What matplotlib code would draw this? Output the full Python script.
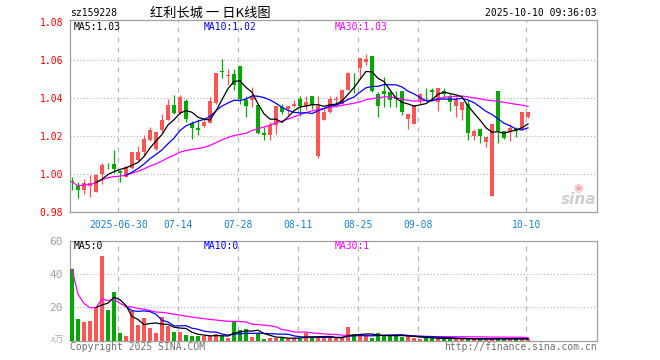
import matplotlib
matplotlib.use('Agg')
import matplotlib.pyplot as plt
import numpy as np
import pandas as pd

# daily K-line data, index 0 = first trading day
opens = [0.9960, 0.9932, 0.9914, 0.9932, 0.9905, 1.0000, 1.0041, 1.0049, 1.0014, 0.9984,
         1.0028, 1.0072, 1.0116, 1.0175, 1.0128, 1.0231, 1.0284, 1.0363, 1.0321, 1.0384,
         1.0268, 1.0240, 1.0249, 1.0268, 1.0370, 1.0540, 1.0512, 1.0526, 1.0565, 1.0386,
         1.0386, 1.0360, 1.0214, 1.0202, 1.0254, 1.0351, 1.0342, 1.0354, 1.0395, 1.0354,
         1.0407, 1.0091, 1.0284, 1.0325, 1.0386, 1.0368, 1.0442, 1.0506, 1.0556, 1.0588,
         1.0618, 1.0418, 1.0435, 1.0430, 1.0396, 1.0435, 1.0286, 1.0263, 1.0386, 1.0431,
         1.0442, 1.0377, 1.0433, 1.0404, 1.0354, 1.0333, 1.0368, 1.0196, 1.0233, 1.0168,
         0.9884, 1.0433, 1.0224, 1.0219, 1.0233, 1.0233, 1.0300]
closes = [0.9956, 0.9914, 0.9949, 0.9949, 0.9993, 1.0046, 1.0039, 1.0025, 1.0005, 1.0037,
          1.0112, 1.0112, 1.0182, 1.0231, 1.0219, 1.0284, 1.0363, 1.0321, 1.0404, 1.0286,
          1.0240, 1.0231, 1.0272, 1.0381, 1.0528, 1.0533, 1.0521, 1.0465, 1.0395, 1.0356,
          1.0407, 1.0214, 1.0202, 1.0254, 1.0354, 1.0325, 1.0354, 1.0368, 1.0354, 1.0377,
          1.0360, 1.0354, 1.0325, 1.0395, 1.0395, 1.0442, 1.0530, 1.0502, 1.0609, 1.0605,
          1.0435, 1.0356, 1.0418, 1.0386, 1.0393, 1.0325, 1.0312, 1.0360, 1.0418, 1.0428,
          1.0430, 1.0453, 1.0418, 1.0377, 1.0395, 1.0377, 1.0216, 1.0225, 1.0196, 1.0191,
          1.0263, 1.0226, 1.0186, 1.0242, 1.0226, 1.0326, 1.0326]
highs = [0.9984, 0.9958, 0.9970, 0.9993, 0.9996, 1.0054, 1.0058, 1.0125, 1.0020, 1.0042,
         1.0112, 1.0146, 1.0203, 1.0245, 1.0223, 1.0316, 1.0395, 1.0416, 1.0412, 1.0395,
         1.0275, 1.0286, 1.0286, 1.0404, 1.0528, 1.0605, 1.0553, 1.0553, 1.0565, 1.0407,
         1.0456, 1.0360, 1.0246, 1.0272, 1.0354, 1.0368, 1.0358, 1.0386, 1.0407, 1.0407,
         1.0407, 1.0407, 1.0351, 1.0407, 1.0407, 1.0447, 1.0535, 1.0530, 1.0609, 1.0628,
         1.0618, 1.0430, 1.0509, 1.0430, 1.0435, 1.0435, 1.0312, 1.0360, 1.0425, 1.0453,
         1.0453, 1.0453, 1.0453, 1.0418, 1.0407, 1.0377, 1.0386, 1.0233, 1.0233, 1.0191,
         1.0263, 1.0433, 1.0224, 1.0263, 1.0244, 1.0326, 1.0326]
lows = [0.9914, 0.9870, 0.9893, 0.9879, 0.9902, 0.9946, 1.0023, 1.0002, 0.9958, 0.9980,
        1.0025, 1.0068, 1.0098, 1.0170, 1.0125, 1.0219, 1.0280, 1.0316, 1.0316, 1.0272,
        1.0182, 1.0201, 1.0245, 1.0265, 1.0365, 1.0505, 1.0465, 1.0442, 1.0368, 1.0298,
        1.0351, 1.0207, 1.0175, 1.0175, 1.0207, 1.0312, 1.0307, 1.0351, 1.0302, 1.0333,
        1.0342, 1.0080, 1.0280, 1.0320, 1.0351, 1.0365, 1.0439, 1.0425, 1.0505, 1.0570,
        1.0430, 1.0298, 1.0351, 1.0351, 1.0351, 1.0307, 1.0235, 1.0260, 1.0368, 1.0390,
        1.0390, 1.0330, 1.0404, 1.0330, 1.0298, 1.0284, 1.0177, 1.0177, 1.0161, 1.0140,
        0.9880, 1.0163, 1.0181, 1.0174, 1.0191, 1.0230, 1.0291]
# volume in 万
volumes = [43.0, 13.0, 11.4, 12.0, 20.4, 50.8, 18.4, 29.2, 4.6, 2.8,
           17.8, 9.4, 13.8, 7.8, 4.6, 14.2, 8.8, 5.2, 5.2, 3.4,
           2.8, 2.8, 2.8, 2.8, 4.0, 2.6, 1.8, 11.6, 6.4, 7.0,
           2.2, 4.4, 1.2, 1.4, 1.6, 1.6, 1.6, 1.6, 1.2, 4.8,
           2.2, 2.2, 2.0, 1.6, 1.4, 1.8, 8.2, 3.8, 3.4, 3.0,
           1.8, 4.4, 3.0, 3.0, 3.0, 2.2, 3.0, 1.8, 1.0, 1.8,
           1.4, 1.4, 1.4, 1.2, 1.0, 1.0, 1.2, 1.0, 1.0, 1.0,
           1.0, 1.8, 1.0, 1.0, 1.0, 1.2, 1.0]

date_labels = ['2025-06-30', '07-14', '07-28', '08-11', '08-25', '09-08', '10-10']
date_idx = [8, 18, 28, 38, 48, 58, 76]
price_ticks = [1.08, 1.06, 1.04, 1.02, 1.00, 0.98]
vol_ticks = [60, 40, 20]

RED = '#ff5555'
GREEN = '#00a800'
MONO = 'DejaVu Sans Mono'

df = pd.DataFrame({'o': opens, 'c': closes, 'h': highs, 'l': lows, 'v': volumes})
x = np.arange(len(df))
up = df['c'] >= df['o']
cols = [RED if u else GREEN for u in up]

W, H = 660, 360
fig = plt.figure(figsize=(6.6, 3.6), dpi=100)

def fx(px):
    return px / W

def fy(py):
    return 1 - py / H

ax = fig.add_axes([fx(70), fy(211.5), fx(527), (211.5 - 20) / H])
axv = fig.add_axes([fx(70), fy(340.7), fx(527), (340.7 - 241) / H])

xl = (-1 / 3, 87.5)
grid_x = [i - 0.3 for i in date_idx]

# candles
body = (df['c'] - df['o']).abs().clip(lower=0.00025)
bot = df[['o', 'c']].min(axis=1)
ax.vlines(x, df['l'], df['h'], colors=cols, linewidth=0.9, zorder=3)
ax.bar(x, body, bottom=bot, width=0.78, color=cols, linewidth=0, zorder=3)

ma5 = df['c'].rolling(5).mean()
ma10 = df['c'].rolling(10).mean()
ma30 = df['c'].rolling(30, min_periods=1).mean()
ax.plot(x, ma30, color='#ff00ff', lw=0.9, zorder=4)
ax.plot(x, ma10, color='#0000ff', lw=0.9, zorder=4)
ax.plot(x, ma5, color='black', lw=0.9, zorder=4)

ax.set_xlim(*xl)
ax.set_ylim(0.9804, 1.0809)
ax.set_yticks(price_ticks)
ax.set_yticklabels(['%.2f' % t for t in price_ticks], color='red', fontsize=7, family=MONO)
ax.set_xticks(grid_x)
ax.set_xticklabels(date_labels, color='#1a80cc', fontsize=7, family=MONO)
ax.tick_params(length=0, pad=5)
ax.tick_params(axis='x', pad=6)
for v in [1.06, 1.04, 1.02, 1.00]:
    ax.axhline(v, color='#b0b0b0', lw=0.8, ls=(0, (1, 2)), zorder=1)
for g in grid_x:
    ax.axvline(g, color='#b4b4b4', lw=0.9, ls=(0, (4, 4)), zorder=1)

# volume
axv.bar(x, df['v'], width=0.78, color=cols, linewidth=0, zorder=3)
axv.plot(x, df['v'].rolling(30, min_periods=1).mean(), color='#ff00ff', lw=0.9, zorder=4)
axv.plot(x, df['v'].rolling(10).mean(), color='#0000ff', lw=0.9, zorder=4)
axv.plot(x, df['v'].rolling(5).mean(), color='black', lw=0.9, zorder=4)
axv.set_xlim(*xl)
axv.set_ylim(0, 60)
axv.set_yticks(vol_ticks)
axv.set_yticklabels([str(t) for t in vol_ticks], color='#a0a0a0', fontsize=8, family=MONO)
axv.set_xticks([])
axv.tick_params(length=0, pad=5)
for v in [40, 20]:
    axv.axhline(v, color='#b0b0b0', lw=0.8, ls=(0, (1, 2)), zorder=1)
for g in grid_x:
    axv.axvline(g, color='#b4b4b4', lw=0.9, ls=(0, (4, 4)), zorder=1)

for a in (ax, axv):
    for s in a.spines.values():
        s.set_color('#a0a0a0')
        s.set_linewidth(0.9)

# header texts
fig.text(fx(70), fy(13), 'sz159228', fontsize=7, family=MONO, va='center')
fig.text(fx(150), fy(13), '红利长城 一 日K线图', fontsize=9.5,
         family=['Noto Sans CJK SC', 'DejaVu Sans'], va='center')
fig.text(fx(597), fy(13), '2025-10-10 09:36:03', fontsize=7, family=MONO,
         va='center', ha='right')

fig.text(fx(74), fy(27), 'MA5:1.03', fontsize=7, family=MONO, va='center', color='black')
fig.text(fx(204), fy(27), 'MA10:1.02', fontsize=7, family=MONO, va='center', color='#0000ff')
fig.text(fx(335), fy(27), 'MA30:1.03', fontsize=7, family=MONO, va='center', color='#ff00ff')

fig.text(fx(74), fy(246), 'MA5:0', fontsize=7, family=MONO, va='center', color='black')
fig.text(fx(204), fy(246), 'MA10:0', fontsize=7, family=MONO, va='center', color='#0000ff')
fig.text(fx(335), fy(246), 'MA30:1', fontsize=7, family=MONO, va='center', color='#ff00ff')

fig.text(fx(64), fy(340), 'x万', fontsize=6.5, family=['Noto Sans CJK SC', 'DejaVu Sans'],
         va='center', ha='right', color='#b0b0b0')
fig.text(fx(70), fy(347), 'Copyright 2025 SINA.COM', fontsize=7, family=MONO,
         va='center', color='#707070')
fig.text(fx(597), fy(347), 'http://finance.sina.com.cn', fontsize=7, family=MONO,
         va='center', ha='right', color='#707070')

# sina watermark
fig.text(fx(596), fy(200), 'sina', fontsize=11, style='italic', weight='bold',
         color='#cfcfcf', ha='right', va='center')
fig.text(fx(578), fy(188), '\u25c9', fontsize=8, color='#f4a8a8', ha='center', va='center')

fig.savefig('out.png', dpi=100)
